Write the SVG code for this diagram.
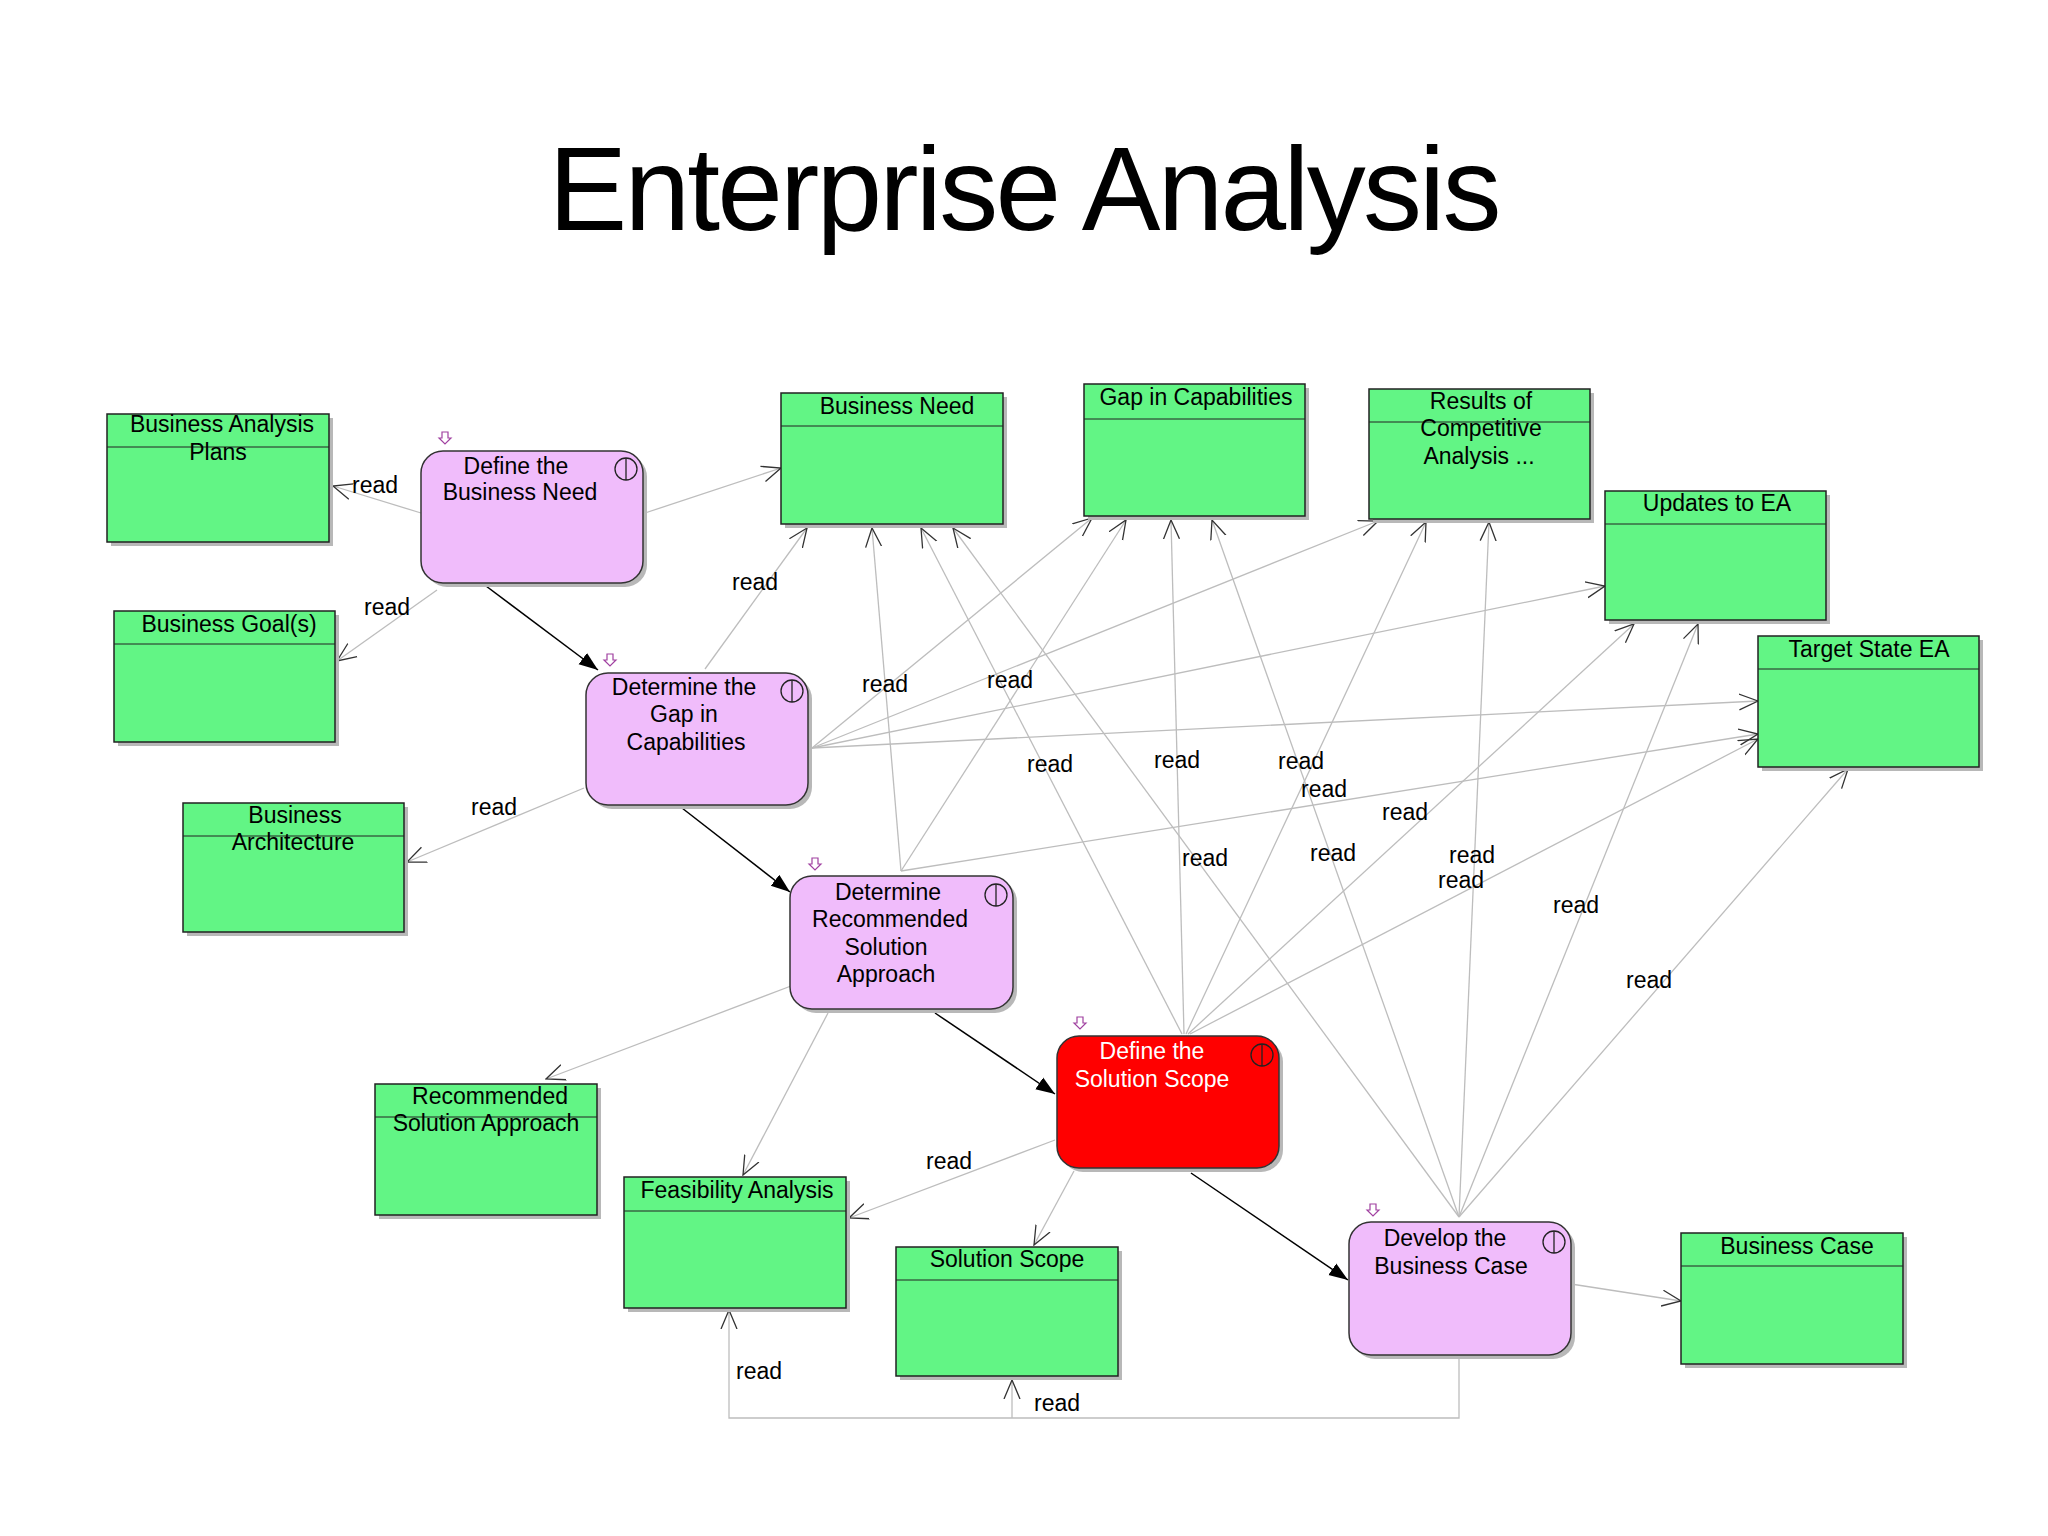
<svg xmlns="http://www.w3.org/2000/svg" width="2048" height="1536" viewBox="0 0 2048 1536">
<style>
text{font-family:"Liberation Sans",Arial,sans-serif;font-size:23px;fill:#000}
.t{text-anchor:middle}
.box{fill:#62f585;stroke:#222;stroke-width:1.5}
.sh{fill:#b8b8b8}
.proc{fill:#f0bcfb;stroke:#333;stroke-width:1.5}
.red{fill:#ff0000;stroke:#333;stroke-width:1.5}
.rd{stroke:#bdbdbd;stroke-width:1.3;fill:none}
.fl{stroke:#000;stroke-width:1.5;fill:none}
.ic{fill:none;stroke:#222;stroke-width:1.3}
.pk{fill:none;stroke:#a040a0;stroke-width:1.2}
</style>
<defs>
<marker id="o" viewBox="0 0 20 20" refX="19" refY="10" markerWidth="20" markerHeight="20" markerUnits="userSpaceOnUse" orient="auto"><path d="M0,2 L19,10 L0,18" fill="none" stroke="#333" stroke-width="1.3"/></marker>
<marker id="f" viewBox="0 0 20 20" refX="19" refY="10" markerWidth="20" markerHeight="20" markerUnits="userSpaceOnUse" orient="auto"><path d="M0,3 L19,10 L0,17 z" fill="#000"/></marker>
</defs>
<rect width="2048" height="1536" fill="#fff"/>
<text x="1025" y="230" class="t" style="font-size:118px" textLength="953" font-family="Open Sans">Enterprise Analysis</text>

<g id="connectors">
<line class="fl" x1="486" y1="586" x2="598" y2="670" marker-end="url(#f)"/>
<line class="fl" x1="682" y1="808" x2="790" y2="892" marker-end="url(#f)"/>
<line class="fl" x1="935" y1="1013" x2="1055" y2="1094" marker-end="url(#f)"/>
<line class="fl" x1="1191" y1="1173" x2="1348" y2="1280" marker-end="url(#f)"/>
<line class="rd" x1="421" y1="513" x2="333" y2="486" marker-end="url(#o)"/>
<line class="rd" x1="645" y1="513" x2="781" y2="468" marker-end="url(#o)"/>
<line class="rd" x1="437" y1="590" x2="337" y2="661" marker-end="url(#o)"/>
<line class="rd" x1="705" y1="669" x2="807" y2="528" marker-end="url(#o)"/>
<line class="rd" x1="584" y1="788" x2="407" y2="862" marker-end="url(#o)"/>
<line class="rd" x1="812" y1="748" x2="1092" y2="518" marker-end="url(#o)"/>
<line class="rd" x1="812" y1="748" x2="1378" y2="521" marker-end="url(#o)"/>
<line class="rd" x1="812" y1="748" x2="1605" y2="586" marker-end="url(#o)"/>
<line class="rd" x1="812" y1="748" x2="1758" y2="701" marker-end="url(#o)"/>
<line class="rd" x1="901" y1="871" x2="872" y2="528" marker-end="url(#o)"/>
<line class="rd" x1="901" y1="871" x2="1126" y2="520" marker-end="url(#o)"/>
<line class="rd" x1="901" y1="871" x2="1758" y2="734" marker-end="url(#o)"/>
<line class="rd" x1="791" y1="986" x2="546" y2="1079" marker-end="url(#o)"/>
<line class="rd" x1="828" y1="1013" x2="743" y2="1175" marker-end="url(#o)"/>
<line class="rd" x1="1182" y1="1034" x2="921" y2="528" marker-end="url(#o)"/>
<line class="rd" x1="1184" y1="1034" x2="1171" y2="520" marker-end="url(#o)"/>
<line class="rd" x1="1186" y1="1034" x2="1426" y2="522" marker-end="url(#o)"/>
<line class="rd" x1="1188" y1="1034" x2="1634" y2="624" marker-end="url(#o)"/>
<line class="rd" x1="1190" y1="1034" x2="1758" y2="739" marker-end="url(#o)"/>
<line class="rd" x1="1055" y1="1140" x2="849" y2="1218" marker-end="url(#o)"/>
<line class="rd" x1="1074" y1="1171" x2="1034" y2="1245" marker-end="url(#o)"/>
<line class="rd" x1="1459" y1="1217" x2="953" y2="528" marker-end="url(#o)"/>
<line class="rd" x1="1459" y1="1217" x2="1212" y2="520" marker-end="url(#o)"/>
<line class="rd" x1="1459" y1="1217" x2="1489" y2="522" marker-end="url(#o)"/>
<line class="rd" x1="1459" y1="1217" x2="1698" y2="624" marker-end="url(#o)"/>
<line class="rd" x1="1459" y1="1217" x2="1848" y2="769" marker-end="url(#o)"/>
<line class="rd" x1="1571" y1="1284" x2="1681" y2="1301" marker-end="url(#o)"/>
<polyline class="rd" points="1459,1356 1459,1418 729,1418 729,1310" marker-end="url(#o)"/>
<polyline class="rd" points="1012,1418 1012,1380" marker-end="url(#o)"/>
<text x="375" y="493" class="t">read</text>
<text x="387" y="615" class="t">read</text>
<text x="755" y="590" class="t">read</text>
<text x="494" y="815" class="t">read</text>
<text x="885" y="692" class="t">read</text>
<text x="1010" y="688" class="t">read</text>
<text x="1050" y="772" class="t">read</text>
<text x="1177" y="768" class="t">read</text>
<text x="1301" y="769" class="t">read</text>
<text x="1324" y="797" class="t">read</text>
<text x="1405" y="820" class="t">read</text>
<text x="1205" y="866" class="t">read</text>
<text x="1333" y="861" class="t">read</text>
<text x="1472" y="863" class="t">read</text>
<text x="1461" y="888" class="t">read</text>
<text x="1576" y="913" class="t">read</text>
<text x="1649" y="988" class="t">read</text>
<text x="949" y="1169" class="t">read</text>
<text x="759" y="1379" class="t">read</text>
<text x="1057" y="1411" class="t">read</text>
</g>

<g id="n-bap"><rect class="sh" x="111" y="418" width="222" height="128"/><rect class="box" x="107" y="414" width="222" height="128"/><line x1="107" y1="447" x2="329" y2="447" stroke="#222"/><text x="222" y="432" class="t">Business Analysis</text><text x="218" y="460" class="t">Plans</text></g>
<g id="n-bn"><rect class="sh" x="785" y="397" width="222" height="131"/><rect class="box" x="781" y="393" width="222" height="131"/><line x1="781" y1="426" x2="1003" y2="426" stroke="#222"/><text x="897" y="414" class="t">Business Need</text></g>
<g id="n-gap"><rect class="sh" x="1088" y="388" width="221" height="132"/><rect class="box" x="1084" y="384" width="221" height="132"/><line x1="1084" y1="419" x2="1305" y2="419" stroke="#222"/><text x="1196" y="405" class="t">Gap in Capabilities</text></g>
<g id="n-res"><rect class="sh" x="1373" y="393" width="221" height="130"/><rect class="box" x="1369" y="389" width="221" height="130"/><line x1="1369" y1="422" x2="1590" y2="422" stroke="#222"/><text x="1481" y="409" class="t">Results of</text><text x="1481" y="436" class="t">Competitive</text><text x="1479" y="464" class="t">Analysis ...</text></g>
<g id="n-upd"><rect class="sh" x="1609" y="495" width="221" height="129"/><rect class="box" x="1605" y="491" width="221" height="129"/><line x1="1605" y1="524" x2="1826" y2="524" stroke="#222"/><text x="1717" y="511" class="t">Updates to EA</text></g>
<g id="n-tgt"><rect class="sh" x="1762" y="640" width="221" height="131"/><rect class="box" x="1758" y="636" width="221" height="131"/><line x1="1758" y1="669" x2="1979" y2="669" stroke="#222"/><text x="1869" y="657" class="t">Target State EA</text></g>
<g id="n-bg"><rect class="sh" x="118" y="615" width="221" height="131"/><rect class="box" x="114" y="611" width="221" height="131"/><line x1="114" y1="644" x2="335" y2="644" stroke="#222"/><text x="229" y="632" class="t">Business Goal(s)</text></g>
<g id="n-barch"><rect class="sh" x="187" y="807" width="221" height="129"/><rect class="box" x="183" y="803" width="221" height="129"/><line x1="183" y1="836" x2="404" y2="836" stroke="#222"/><text x="295" y="823" class="t">Business</text><text x="293" y="850" class="t">Architecture</text></g>
<g id="n-rsa"><rect class="sh" x="379" y="1088" width="222" height="131"/><rect class="box" x="375" y="1084" width="222" height="131"/><line x1="375" y1="1117" x2="597" y2="1117" stroke="#222"/><text x="490" y="1104" class="t">Recommended</text><text x="486" y="1131" class="t">Solution Approach</text></g>
<g id="n-feas"><rect class="sh" x="628" y="1181" width="222" height="131"/><rect class="box" x="624" y="1177" width="222" height="131"/><line x1="624" y1="1211" x2="846" y2="1211" stroke="#222"/><text x="737" y="1198" class="t">Feasibility Analysis</text></g>
<g id="n-ss"><rect class="sh" x="900" y="1251" width="222" height="129"/><rect class="box" x="896" y="1247" width="222" height="129"/><line x1="896" y1="1280" x2="1118" y2="1280" stroke="#222"/><text x="1007" y="1267" class="t">Solution Scope</text></g>
<g id="n-bc"><rect class="sh" x="1685" y="1237" width="222" height="131"/><rect class="box" x="1681" y="1233" width="222" height="131"/><line x1="1681" y1="1266" x2="1903" y2="1266" stroke="#222"/><text x="1797" y="1254" class="t">Business Case</text></g>

<g id="p-dbn"><rect class="sh" x="425" y="455" width="222" height="132" rx="22"/><rect class="proc" x="421" y="451" width="222" height="132" rx="22"/><circle class="ic" cx="626" cy="469" r="11"/><line class="ic" x1="626" y1="458" x2="626" y2="480"/><path class="pk" d="M442,432 h6 v6 h3 l-6,6 l-6,-6 h3 z"/><text x="516" y="474" class="t">Define the</text><text x="520" y="500" class="t">Business Need</text></g>
<g id="p-gap"><rect class="sh" x="590" y="677" width="222" height="132" rx="22"/><rect class="proc" x="586" y="673" width="222" height="132" rx="22"/><circle class="ic" cx="792" cy="691" r="11"/><line class="ic" x1="792" y1="680" x2="792" y2="702"/><path class="pk" d="M607,654 h6 v6 h3 l-6,6 l-6,-6 h3 z"/><text x="684" y="695" class="t">Determine the</text><text x="684" y="722" class="t">Gap in</text><text x="686" y="750" class="t">Capabilities</text></g>
<g id="p-rec"><rect class="sh" x="794" y="880" width="223" height="133" rx="22"/><rect class="proc" x="790" y="876" width="223" height="133" rx="22"/><circle class="ic" cx="996" cy="895" r="11"/><line class="ic" x1="996" y1="884" x2="996" y2="906"/><path class="pk" d="M812,858 h6 v6 h3 l-6,6 l-6,-6 h3 z"/><text x="888" y="900" class="t">Determine</text><text x="890" y="927" class="t">Recommended</text><text x="886" y="955" class="t">Solution</text><text x="886" y="982" class="t">Approach</text></g>
<g id="p-dss"><rect class="sh" x="1061" y="1040" width="222" height="132" rx="22"/><rect class="red" x="1057" y="1036" width="222" height="132" rx="22"/><circle class="ic" cx="1262" cy="1055" r="11"/><line class="ic" x1="1262" y1="1044" x2="1262" y2="1066"/><path class="pk" d="M1077,1017 h6 v6 h3 l-6,6 l-6,-6 h3 z"/><text x="1152" y="1059" class="t" style="fill:#fff">Define the</text><text x="1152" y="1087" class="t" style="fill:#fff">Solution Scope</text></g>
<g id="p-dev"><rect class="sh" x="1353" y="1226" width="222" height="133" rx="22"/><rect class="proc" x="1349" y="1222" width="222" height="133" rx="22"/><circle class="ic" cx="1554" cy="1242" r="11"/><line class="ic" x1="1554" y1="1231" x2="1554" y2="1253"/><path class="pk" d="M1370,1204 h6 v6 h3 l-6,6 l-6,-6 h3 z"/><text x="1445" y="1246" class="t">Develop the</text><text x="1451" y="1274" class="t">Business Case</text></g>
</svg>
